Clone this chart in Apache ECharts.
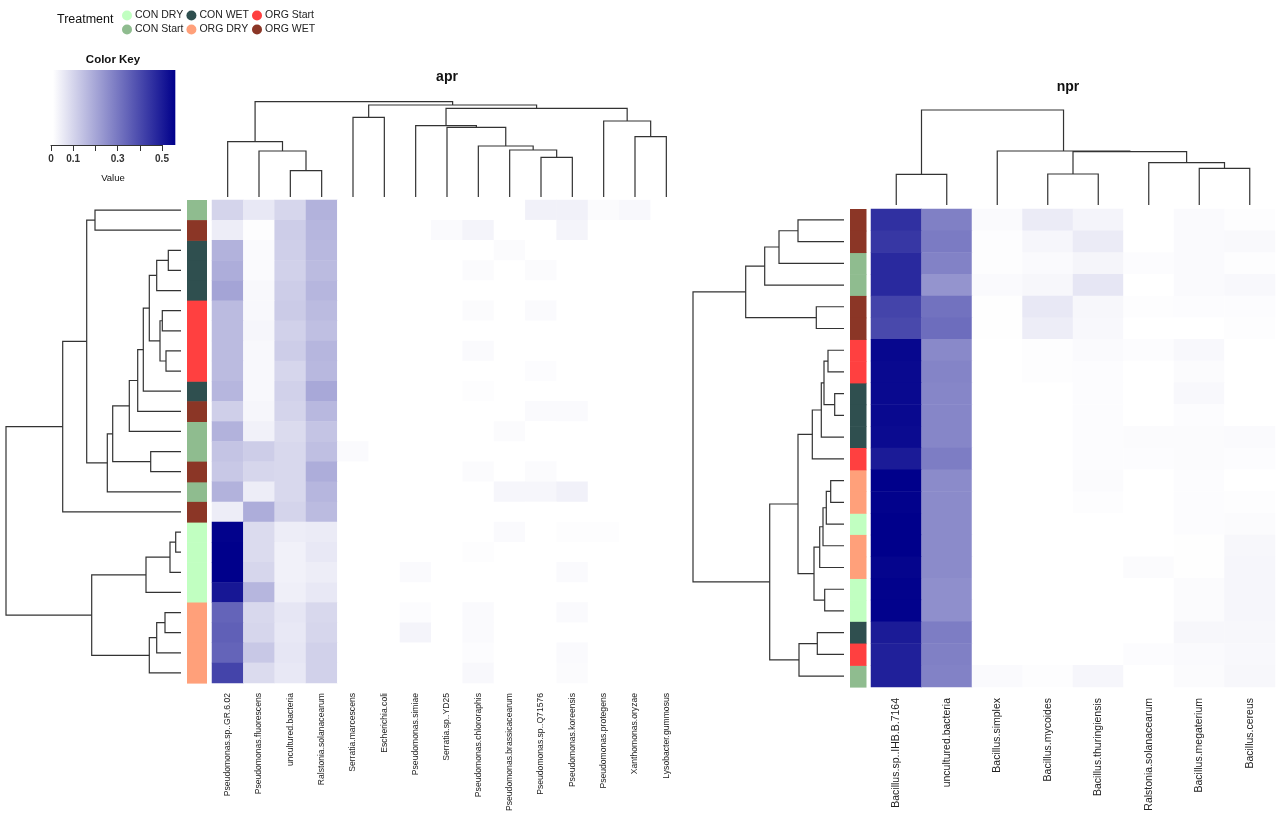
<!DOCTYPE html>
<html><head><meta charset="utf-8">
<script src="https://cdn.jsdelivr.net/npm/echarts@6/dist/echarts.min.js"></script>
<style>html,body{margin:0;padding:0;background:#fff}#c{width:1280px;height:814px}</style>
</head><body><div id="c"></div><script>
// ---------- data ----------
const treatments = ['CON DRY','CON Start','CON WET','ORG DRY','ORG Start','ORG WET'];
const treatmentColors = ['#C1FFC1','#8FBC8F','#2F4F4F','#FFA07A','#FF4040','#8B3626'];

const keyTickLabels = [0, 0.1, 0.3, 0.5];
const keyMax = 0.56;

const aprCols = ['Pseudomonas.sp..GR.6.02','Pseudomonas.fluorescens','uncultured.bacteria','Ralstonia.solanacearum',
  'Serratia.marcescens','Escherichia.coli','Pseudomonas.simiae','Serratia.sp..YD25','Pseudomonas.chlororaphis',
  'Pseudomonas.brassicacearum','Pseudomonas.sp..Q71576','Pseudomonas.koreensis','Pseudomonas.protegens',
  'Xanthomonas.oryzae','Lysobacter.gummosus'];
const aprRowTreatment = ['CON Start','ORG WET','CON WET','CON WET','CON WET','ORG Start','ORG Start','ORG Start','ORG Start',
  'CON WET','ORG WET','CON Start','CON Start','ORG WET','CON Start','ORG WET',
  'CON DRY','CON DRY','CON DRY','CON DRY','ORG DRY','ORG DRY','ORG DRY','ORG DRY'];
const aprValues = [
  [0.095,0.05,0.09,0.17,0,0,0,0,0,0,0.03,0.03,0.008,0.015,0],
  [0.04,0.005,0.11,0.16,0,0,0,0.01,0.025,0,0,0.025,0,0,0],
  [0.17,0.01,0.105,0.155,0,0,0,0,0,0.008,0,0,0,0,0],
  [0.18,0.01,0.1,0.15,0,0,0,0,0.008,0,0.008,0,0,0,0],
  [0.2,0.015,0.11,0.16,0,0,0,0,0,0,0,0,0,0,0],
  [0.15,0.015,0.115,0.15,0,0,0,0,0.008,0,0.01,0,0,0,0],
  [0.15,0.02,0.1,0.14,0,0,0,0,0,0,0,0,0,0,0],
  [0.15,0.015,0.11,0.16,0,0,0,0,0.012,0,0,0,0,0,0],
  [0.15,0.015,0.09,0.155,0,0,0,0,0,0,0.006,0,0,0,0],
  [0.16,0.015,0.1,0.19,0,0,0,0,0.005,0,0,0,0,0,0],
  [0.105,0.02,0.095,0.155,0,0,0,0,0,0,0.012,0.012,0,0,0],
  [0.17,0.03,0.08,0.13,0,0,0,0,0,0.008,0,0,0,0,0],
  [0.13,0.11,0.085,0.14,0.01,0,0,0,0,0,0,0,0,0,0],
  [0.12,0.09,0.085,0.18,0,0,0,0,0.008,0,0.008,0,0,0,0],
  [0.17,0.04,0.085,0.16,0,0,0,0,0,0.02,0.02,0.03,0,0,0],
  [0.04,0.18,0.095,0.15,0,0,0,0,0,0,0,0,0,0,0],
  [0.555,0.08,0.04,0.045,0,0,0,0,0,0.01,0,0.005,0.005,0,0],
  [0.56,0.08,0.03,0.05,0,0,0,0,0.005,0,0,0,0,0,0],
  [0.56,0.09,0.03,0.04,0,0,0.01,0,0,0,0,0.01,0,0,0],
  [0.51,0.16,0.035,0.05,0,0,0,0,0,0,0,0,0,0,0],
  [0.34,0.085,0.055,0.085,0,0,0.006,0,0.012,0,0,0.01,0,0,0],
  [0.35,0.09,0.05,0.09,0,0,0.025,0,0.01,0,0,0,0,0,0],
  [0.34,0.12,0.055,0.1,0,0,0,0,0.006,0,0,0.012,0,0,0],
  [0.41,0.08,0.05,0.1,0,0,0,0,0.015,0,0,0.008,0,0,0]
];
// merge tables (R hclust style): negative = leaf (-1 = first leaf), positive = earlier merge step; third = height
const aprColMerge = [
  [-3,-4,0.263],[-2,1,0.46],[-1,2,0.553],[-5,-6,0.797],[-11,-12,0.397],[-10,5,0.47],[-9,6,0.51],
  [-8,7,0.697],[-7,8,0.713],[-14,-15,0.603],[-13,10,0.76],[9,11,0.887],[4,12,0.92],[3,13,0.953]
];
const aprRowMerge = [
  [-1,-2,0.86],[-3,-4,0.127],[2,-5,0.243],[-6,-7,0.187],[-8,-9,0.15],[4,5,0.21],[3,6,0.317],
  [7,-10,0.377],[8,-11,0.433],[9,-12,0.517],[-13,-14,0.303],[10,11,0.683],[12,-15,0.737],
  [1,13,0.943],[14,-16,1.183],[-17,-18,0.053],[16,-19,0.11],[17,-20,0.35],[-21,-22,0.16],
  [19,-23,0.243],[20,-24,0.317],[18,21,0.893],[15,22,1.75]
];

const nprCols = ['Bacillus.sp..IHB.B.7164','uncultured.bacteria','Bacillus.simplex','Bacillus.mycoides',
  'Bacillus.thuringiensis','Ralstonia.solanacearum','Bacillus.megaterium','Bacillus.cereus'];
const nprRowTreatment = ['ORG WET','ORG WET','CON Start','CON Start','ORG WET','ORG WET','ORG Start','ORG Start',
  'CON WET','CON WET','CON WET','ORG Start','ORG DRY','ORG DRY','CON DRY','ORG DRY','ORG DRY',
  'CON DRY','CON DRY','CON WET','ORG Start','CON Start'];
const nprValues = [
  [0.455,0.28,0.01,0.045,0.025,0,0.012,0.005],
  [0.44,0.29,0.005,0.02,0.045,0,0.01,0.014],
  [0.47,0.275,0.005,0.01,0.022,0.006,0.01,0.004],
  [0.47,0.235,0.012,0.018,0.055,0,0.01,0.016],
  [0.41,0.31,0.003,0.05,0.018,0.005,0.006,0.006],
  [0.40,0.32,0.003,0.04,0.016,0,0,0.004],
  [0.545,0.26,0,0.005,0.012,0.006,0.016,0],
  [0.54,0.27,0,0.005,0.006,0,0.008,0],
  [0.54,0.265,0,0,0.006,0,0.016,0],
  [0.54,0.265,0,0,0.006,0,0.006,0],
  [0.535,0.265,0,0,0.006,0.008,0.008,0.01],
  [0.5,0.285,0,0,0.006,0.006,0.008,0.006],
  [0.56,0.255,0,0,0.008,0,0.006,0],
  [0.555,0.255,0,0,0.004,0,0.006,0.004],
  [0.56,0.255,0,0,0,0,0.006,0.008],
  [0.56,0.255,0,0,0,0,0.003,0.018],
  [0.55,0.255,0,0,0,0.008,0.003,0.02],
  [0.555,0.245,0,0,0,0,0.008,0.02],
  [0.555,0.245,0,0,0,0,0.008,0.02],
  [0.5,0.285,0,0,0,0,0.018,0.018],
  [0.49,0.28,0,0,0,0.006,0.01,0.016],
  [0.49,0.275,0.01,0.005,0.02,0,0.008,0.018]
];
const nprColMerge = [
  [-1,-2,0.307],[-4,-5,0.31],[-7,-8,0.367],[-6,3,0.423],[2,4,0.533],[-3,5,0.54],[1,6,0.95]
];
const nprRowMerge = [
  [-1,-2,0.46],[1,-3,0.65],[2,-4,0.793],[-5,-6,0.277],[3,4,0.983],[-7,-8,0.16],[-9,-10,0.093],
  [6,7,0.2],[8,-11,0.227],[9,-12,0.317],[-13,-14,0.133],[11,-15,0.177],[12,-16,0.21],[13,-17,0.243],
  [-18,-19,0.193],[14,15,0.3],[10,16,0.46],[-20,-21,0.267],[18,-22,0.45],[17,19,0.743],[5,20,1.51]
];

// ---------- helpers ----------
const FONT = 'Liberation Sans, Arial, Helvetica, sans-serif';
const LOW = '#FFFFFF', HIGH = '#00008B';

function dendroSegments(merge){
  const pos = [], hgt = [], out = [];
  const get = k => k < 0 ? [-k - 1, 0] : [pos[k - 1], hgt[k - 1]];
  merge.forEach(([a, b, h]) => {
    const [pa, ha] = get(a), [pb, hb] = get(b);
    pos.push((pa + pb) / 2); hgt.push(h);
    out.push([pa, ha, pb, hb, h]);
  });
  return out;
}
function dendroSeries(merge, gi, horizontal){
  return {
    type: 'custom', xAxisIndex: gi, yAxisIndex: gi, silent: true, clip: false,
    data: dendroSegments(merge),
    renderItem: (params, api) => {
      const pa = api.value(0), ha = api.value(1), pb = api.value(2), hb = api.value(3), h = api.value(4);
      const c = (p, hh) => horizontal ? api.coord([hh, p]) : api.coord([p, hh]);
      return { type: 'polyline', shape: { points: [c(pa, ha), c(pa, h), c(pb, h), c(pb, hb)] },
        style: { stroke: '#333', lineWidth: 1.2, fill: null } };
    }
  };
}
function annotSeries(rowTreat, gi){
  return treatments.map((t, k) => ({
    type: 'custom', name: t, xAxisIndex: gi, yAxisIndex: gi, silent: true,
    itemStyle: { color: treatmentColors[k] },
    data: rowTreat.map((tt, r) => tt === t ? [0, r] : null).filter(d => d),
    renderItem: (params, api) => {
      const p = api.coord([api.value(0), api.value(1)]);
      const s = api.size([1, 1]);
      return { type: 'rect', shape: { x: p[0] - s[0] / 2, y: p[1] - s[1] / 2, width: s[0], height: s[1] + 0.6 },
        style: { fill: api.visual('color') } };
    }
  }));
}
function heatData(m){
  const d = [];
  m.forEach((row, r) => row.forEach((v, c) => d.push([c, r, v])));
  return d;
}
const hidden = (extra) => Object.assign({ show: false }, extra);

// ---------- grids ----------
const grids = [
  { left: 51, top: 70, width: 111, height: 75 },     // 0 colour key
  { left: 0, top: 200, width: 181, height: 483 },    // 1 apr row dendrogram
  { left: 187, top: 200, width: 20, height: 483 },   // 2 apr annotation
  { left: 212, top: 200, width: 470, height: 483 },  // 3 apr heatmap
  { left: 212, top: 97, width: 470, height: 100 },   // 4 apr col dendrogram
  { left: 688, top: 209, width: 156, height: 478 },  // 5 npr row dendrogram
  { left: 850, top: 209, width: 16.5, height: 478 }, // 6 npr annotation
  { left: 871, top: 209, width: 404, height: 478 },  // 7 npr heatmap
  { left: 871, top: 105, width: 404, height: 100 }   // 8 npr col dendrogram
].map(g => Object.assign({ outerBoundsMode: 'none', containLabel: false, show: false }, g));

const rowIdx = n => Array.from({ length: n }, (_, i) => String(i));

const xAxes = [
  { gridIndex: 0, type: 'value', min: 0, max: 0.5, interval: 0.1, position: 'bottom',
    axisLine: { show: true, lineStyle: { color: '#333', width: 1 } },
    axisTick: { show: true, length: 6, lineStyle: { color: '#333', width: 1 } },
    splitLine: { show: false },
    axisLabel: { margin: 9, fontSize: 10, fontWeight: 'bold', color: '#333', fontFamily: FONT,
      formatter: v => keyTickLabels.some(t => Math.abs(t - v) < 1e-9) ? String(+v.toFixed(2)) : '' } },
  hidden({ gridIndex: 1, type: 'value', min: 0, max: 1.81, inverse: true }),
  hidden({ gridIndex: 2, type: 'category', data: [''] }),
  { gridIndex: 3, type: 'category', data: aprCols, position: 'bottom',
    axisLine: { show: false }, axisTick: { show: false }, splitLine: { show: false },
    axisLabel: { rotate: 90, interval: 0, fontSize: 8.6, margin: 10, color: '#222', fontFamily: FONT } },
  hidden({ gridIndex: 4, type: 'value', min: -0.5, max: aprCols.length - 0.5 }),
  hidden({ gridIndex: 5, type: 'value', min: 0, max: 1.56, inverse: true }),
  hidden({ gridIndex: 6, type: 'category', data: [''] }),
  { gridIndex: 7, type: 'category', data: nprCols, position: 'bottom',
    axisLine: { show: false }, axisTick: { show: false }, splitLine: { show: false },
    axisLabel: { rotate: 90, interval: 0, fontSize: 10.5, margin: 11, color: '#222', fontFamily: FONT } },
  hidden({ gridIndex: 8, type: 'value', min: -0.5, max: nprCols.length - 0.5 })
];
const yAxes = [
  hidden({ gridIndex: 0, type: 'value', min: 0, max: 1 }),
  hidden({ gridIndex: 1, type: 'value', min: -0.5, max: aprRowTreatment.length - 0.5, inverse: true }),
  hidden({ gridIndex: 2, type: 'category', data: rowIdx(aprRowTreatment.length), inverse: true }),
  hidden({ gridIndex: 3, type: 'category', data: rowIdx(aprRowTreatment.length), inverse: true }),
  hidden({ gridIndex: 4, type: 'value', min: 0, max: 1 }),
  hidden({ gridIndex: 5, type: 'value', min: -0.5, max: nprRowTreatment.length - 0.5, inverse: true }),
  hidden({ gridIndex: 6, type: 'category', data: rowIdx(nprRowTreatment.length), inverse: true }),
  hidden({ gridIndex: 7, type: 'category', data: rowIdx(nprRowTreatment.length), inverse: true }),
  hidden({ gridIndex: 8, type: 'value', min: 0, max: 1 })
];

const series = [
  { type: 'heatmap', xAxisIndex: 3, yAxisIndex: 3, data: heatData(aprValues), silent: true, emphasis: { disabled: true } },
  { type: 'heatmap', xAxisIndex: 7, yAxisIndex: 7, data: heatData(nprValues), silent: true, emphasis: { disabled: true } },
  { type: 'custom', xAxisIndex: 0, yAxisIndex: 0, silent: true, clip: false, data: [[0, 0]],
    renderItem: (params, api) => {
      const p0 = api.coord([0, 0]), p1 = api.coord([keyMax, 1]);
      return { type: 'rect', shape: { x: p0[0] + 2, y: p1[1], width: p1[0] - p0[0] - 2, height: p0[1] - p1[1] },
        style: { fill: { type: 'linear', x: 0, y: 0, x2: 1, y2: 0,
          colorStops: [{ offset: 0, color: LOW }, { offset: 1, color: HIGH }] } } };
    } },
  dendroSeries(aprRowMerge, 1, true),
  dendroSeries(aprColMerge, 4, false),
  dendroSeries(nprRowMerge, 5, true),
  dendroSeries(nprColMerge, 8, false),
  ...annotSeries(aprRowTreatment, 2),
  ...annotSeries(nprRowTreatment, 6)
];

const txt = (text, x, y, size, weight, align) => ({
  type: 'text', x, y, silent: true,
  style: { text, fill: '#111', font: (weight || 'normal') + ' ' + size + 'px ' + FONT,
    textAlign: align || 'center', textVerticalAlign: 'middle' }
});

const chart = echarts.init(document.getElementById('c'), null, { renderer: 'canvas' });
chart.setOption({
  animation: false,
  backgroundColor: '#fff',
  grid: grids, xAxis: xAxes, yAxis: yAxes,
  visualMap: [{ type: 'continuous', show: false, min: 0, max: keyMax, seriesIndex: [0, 1],
    inRange: { color: [LOW, HIGH] } }],
  legend: [{ data: treatments, orient: 'vertical', left: 117, top: 5, height: 32,
    itemWidth: 10, itemHeight: 10, itemGap: 3, icon: 'circle', selectedMode: false,
    textStyle: { fontSize: 10.5, color: '#222', fontFamily: FONT, padding: [0, 0, 0, -2] } }],
  graphic: [
    txt('Treatment', 57, 20, 12.5, 'normal', 'left'),
    txt('Color Key', 113, 60, 11.5, 'bold'),
    txt('Value', 113, 178, 9.5, 'normal'),
    txt('apr', 447, 77, 14, 'bold'),
    txt('npr', 1068, 87, 14, 'bold')
  ],
  series
});
</script></body></html>
